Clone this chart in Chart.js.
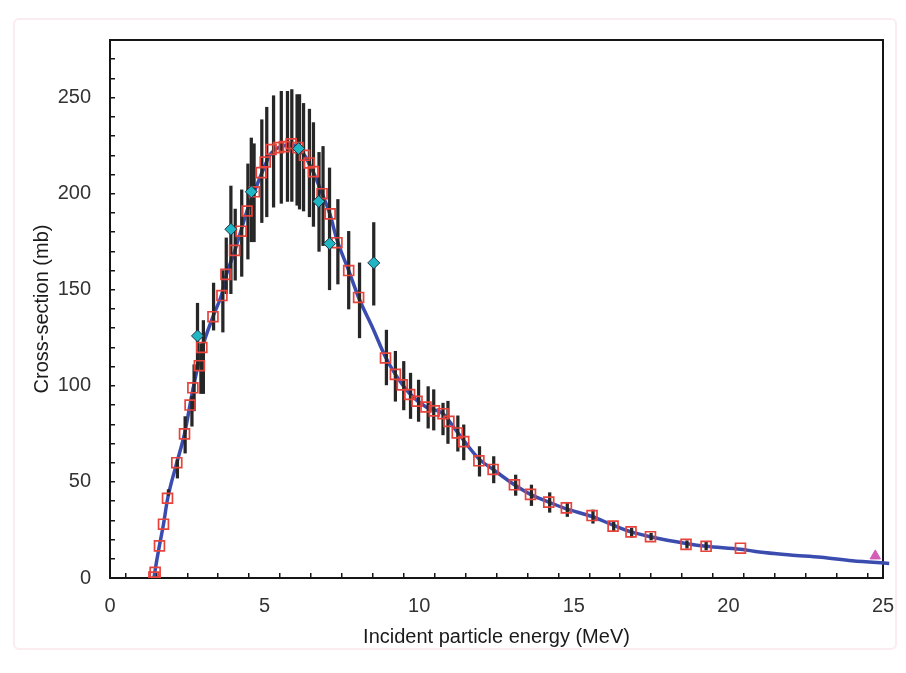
<!DOCTYPE html>
<html>
<head>
<meta charset="utf-8">
<title>Cross-section vs incident particle energy</title>
<script src="https://cdn.jsdelivr.net/npm/chart.js@4/dist/chart.umd.min.js"></script>
<style>
  html, body { margin: 0; padding: 0; background: #fff; }
  #wrap { position: relative; width: 906px; height: 673px; }
  #marco { position: absolute; left: 13px; top: 18px; width: 880px; height: 628px; border: 2px solid #fbedef; border-radius: 6px; }
  canvas { position: absolute; left: 0; top: 0; }
</style>
</head>
<body>
<div id="wrap"><div id="marco"></div><canvas id="grafica" width="906" height="673"></canvas></div>
<script>
// Sección eficaz: curva calculada, puntos calculados (cuadros), datos experimentales con barras de error.

// ---- Curva continua (azul) ----
var curvaE = [1.42, 1.50, 1.60, 1.73, 1.86, 2.16, 2.41, 2.68, 2.97, 3.33, 3.62, 3.75, 4.03, 4.24, 4.43, 4.67, 4.89,
  5.21, 5.45, 5.86, 6.08, 6.29, 6.58, 6.86, 7.12, 7.34, 7.72, 8.04, 8.50, 8.91, 9.23, 9.69, 10.22, 10.77, 11.23,
  11.93, 12.39, 13.08, 13.60, 14.19, 14.76, 15.59, 16.27, 16.85, 17.48, 18.63, 19.28, 20.39, 21.0, 22.0, 23.0, 24.0, 25.2];
var curvaS = [0, 8, 17, 28, 41, 60, 75, 98, 119, 136, 148, 157, 170, 181, 191, 201, 210,
  221, 224, 225.5, 224, 220, 211, 200, 189, 176, 160, 146, 130, 115, 106, 96, 89, 85.5, 76,
  62, 56.5, 48.5, 43.5, 39.5, 36, 32, 27.5, 24, 21.5, 18, 16.5, 15, 13.5, 12, 10.8, 9, 7.6];

// ---- Cuadros rojos ----
var cuadE = [1.42, 1.46, 1.60, 1.73, 1.86, 2.16, 2.41, 2.59, 2.68, 2.89, 2.97, 3.33, 3.62, 3.75, 4.03, 4.24, 4.43,
  4.67, 4.89, 5.02, 5.21, 5.45, 5.64, 5.86, 6.08, 6.29, 6.44, 6.58, 6.86, 7.12, 7.34, 7.72, 8.04, 8.91, 9.23,
  9.45, 9.69, 9.93, 10.22, 10.49, 10.77, 10.96, 11.23, 11.44, 11.93, 12.39, 13.08, 13.60, 14.19, 14.76, 15.59,
  16.27, 16.85, 17.48, 18.63, 19.28, 20.39];
var cuadS = [0.5, 3, 16.7, 28, 41.5, 60, 75, 90, 99, 110.5, 120, 136, 147, 158, 170.5, 180.5, 191,
  201, 211, 216.5, 223, 224, 224.5, 226, 224, 220, 216, 211.5, 200, 189.5, 174.5, 160, 146, 114.5, 106,
  100.5, 95.5, 92, 89, 87, 85.5, 81.5, 75.5, 71, 61, 56.5, 48.5, 43.5, 39.5, 36.5, 32.5,
  27, 24, 21.5, 17.5, 16.5, 15.5];

// ---- Barras de error (negro): energía, límite inferior, límite superior ----
var barraE = [1.89, 2.18, 2.43, 2.65, 2.72, 2.83, 2.94, 3.02, 3.35, 3.65, 3.76, 3.91, 4.05, 4.26, 4.46, 4.57, 4.66,
  4.91, 5.07, 5.29, 5.54, 5.74, 5.88, 6.05, 6.13, 6.26, 6.45, 6.58, 6.76, 6.89, 7.10, 7.37, 7.72, 8.07, 8.53,
  8.94, 9.23, 9.50, 9.72, 9.98, 10.29, 10.47, 10.77, 10.93, 11.25, 11.44, 11.95, 12.41, 13.12, 13.63, 14.22,
  14.79, 15.62, 16.29, 16.87, 17.50, 18.66, 19.28];
var barraMin = [43, 52, 65, 79, 87, 108, 96, 96, 129, 128, 148, 148, 155, 157, 166, 175, 175,
  185, 188, 193, 195, 196, 196, 194, 192, 191, 188, 183, 170, 173, 150, 153, 140, 125, 142,
  100.5, 92, 87.5, 83, 81.5, 78, 77, 74.5, 70, 66, 61.5, 53, 49.5, 43, 37.7, 34.2,
  32, 28.5, 24.6, 21.2, 19.8, 15.5, 14.6];
var barraMax = [46, 61.5, 84, 94.5, 111, 143, 122, 134, 153.5, 160, 177, 204, 192, 202, 215.5, 229, 226,
  238.5, 245, 251, 253.3, 253.3, 254.2, 251.6, 251.6, 247, 244, 237, 221.5, 224.6, 213.4, 197, 180.4, 164, 185,
  129, 118, 112.7, 106.6, 103, 99.6, 98, 91, 92, 84.4, 79.7, 68.4, 63.2, 53.6, 48.4, 44.4,
  38.9, 35.4, 29.3, 25.9, 23.3, 19.4, 18.6];

// ---- Rombos cian (otro conjunto experimental) ----
var rombE = [2.83, 3.91, 4.57, 6.10, 6.75, 7.10, 8.53];
var rombS = [126, 181.5, 201, 223.5, 196, 174, 164];

// ---- Triángulo magenta ----
var triE = [24.75];
var triS = [11.5];

var FUENTE = "'Liberation Sans', Arial, Helvetica, sans-serif";
var pares = function (xs, ys) { return xs.map(function (x, i) { return { x: x, y: ys[i] }; }); };

// Marco completo del área de trazado (arriba y derecha incluidos).
var marco = {
  id: 'marco',
  beforeDatasetsDraw: function (chart) {
    var a = chart.chartArea, c = chart.ctx;
    c.save();
    c.strokeStyle = '#151515';
    c.lineWidth = 2;
    c.strokeRect(a.left, a.top, a.right - a.left, a.bottom - a.top);
    c.restore();
  }
};

new Chart(document.getElementById('grafica').getContext('2d'), {
  type: 'line',
  data: {
    datasets: [
      {
        type: 'line', data: pares(curvaE, curvaS), borderColor: '#3b4caf', borderWidth: 3.5,
        pointRadius: 0, cubicInterpolationMode: 'monotone', fill: false, order: 3,
        clip: { left: 0, top: 0, right: 8, bottom: 0 }
      },
      {
        type: 'bar',
        data: barraE.map(function (x, i) { return { x: x, y: [barraMin[i], barraMax[i]] }; }),
        backgroundColor: '#262626', borderWidth: 0, barThickness: 2.6, grouped: false, order: 2
      },
      {
        type: 'line', showLine: false, data: pares(cuadE, cuadS), pointStyle: 'rect', pointRadius: 7,
        pointBorderColor: '#e8433b', pointBorderWidth: 1.7, pointBackgroundColor: 'rgba(0,0,0,0)', order: 1
      },
      {
        type: 'line', showLine: false, data: pares(rombE, rombS), pointStyle: 'rectRot', pointRadius: 6,
        pointBackgroundColor: '#20b6c4', pointBorderColor: '#1b3346', pointBorderWidth: 1, order: 0
      },
      {
        type: 'line', showLine: false, data: pares(triE, triS), pointStyle: 'triangle', pointRadius: 6,
        pointBackgroundColor: '#d25db6', pointBorderColor: '#d25db6', order: 0
      }
    ]
  },
  options: {
    responsive: false,
    animation: false,
    events: [],
    layout: { padding: { left: 0, top: 40, right: 23, bottom: 0 } },
    plugins: { legend: { display: false }, tooltip: { enabled: false } },
    scales: {
      x: {
        type: 'linear', min: 0, max: 25, offset: false,
        border: { display: true, color: '#151515', width: 2 },
        grid: { drawOnChartArea: false, drawTicks: true, tickLength: -5, color: '#151515', lineWidth: 1.5 },
        ticks: {
          stepSize: 1, autoSkip: false, maxRotation: 0, padding: 21, color: '#333', font: { family: FUENTE, size: 20 },
          callback: function (v) { return Math.abs(v % 5) < 1e-6 ? String(v) : ''; }
        },
        title: { display: true, text: 'Incident particle energy (MeV)', color: '#1a1a1a', font: { family: FUENTE, size: 20 }, padding: { top: 0, bottom: 24 } },
        afterFit: function (s) { s.height = 95; s.paddingLeft = 0; s.paddingRight = 0; }
      },
      y: {
        type: 'linear', min: 0, max: 280,
        border: { display: true, color: '#151515', width: 2 },
        grid: { drawOnChartArea: false, drawTicks: true, tickLength: -5, color: '#151515', lineWidth: 1.5 },
        ticks: {
          stepSize: 10, autoSkip: false, padding: 24, color: '#333', font: { family: FUENTE, size: 20 },
          callback: function (v) { return Math.abs(v % 50) < 1e-6 ? String(v) : ''; }
        },
        title: { display: true, text: 'Cross-section (mb)', color: '#1a1a1a', font: { family: FUENTE, size: 20 }, padding: { top: 30, bottom: 0 } },
        afterFit: function (s) { s.width = 110; s.paddingTop = 0; s.paddingBottom = 0; }
      }
    }
  },
  plugins: [marco]
});
</script>
</body>
</html>
